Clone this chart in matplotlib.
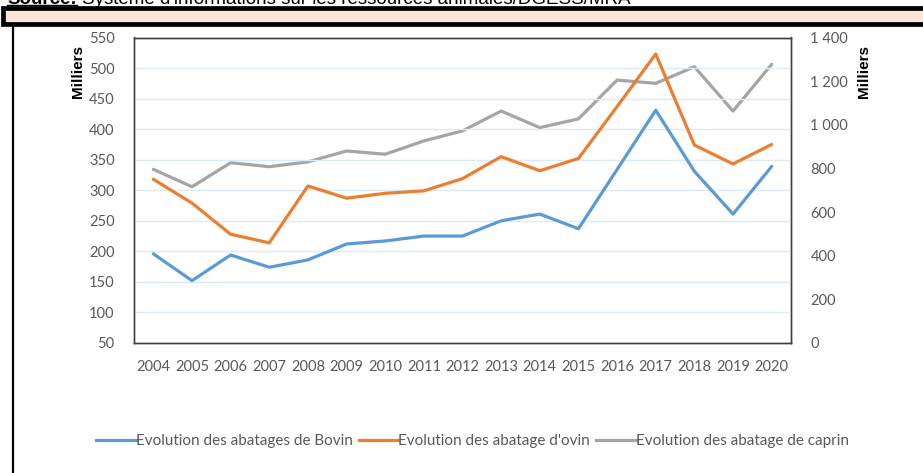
import matplotlib
matplotlib.use('Agg')
import matplotlib.pyplot as plt
from matplotlib.lines import Line2D
from matplotlib.patches import Rectangle
from matplotlib.ticker import FuncFormatter

annees = [str(a) for a in range(2004, 2021)]
# abattages en milliers de tetes
bovin = [196, 152, 194, 174, 186, 212, 217, 225, 225, 250, 261, 237, 334, 431, 331, 261, 339]
ovin = [318, 279, 228, 214, 307, 287, 295, 299, 319, 355, 332, 352, 437, 523, 374, 343, 375]
caprin = [796, 716, 826, 808, 830, 880, 865, 926, 972, 1063, 987, 1027, 1205, 1190, 1266, 1063, 1277]

noms = ["Evolution des abatages de Bovin", "Evolution des abatage d'ovin",
        "Evolution des abatage de caprin"]
couleurs = ['#5B9BD5', '#ED7D31', '#A5A5A5']
gris_txt = '#595959'
police = ['Lato', 'DejaVu Sans']

fig = plt.figure(figsize=(9.23, 4.73), dpi=100)

# bandeau du haut (source coupee + cadre)
y_src = 1 - 3.5 / 473
t_src = fig.text(0.008, y_src, "Source:", fontsize=13.5, fontweight='bold',
                 family='Liberation Sans', va='baseline', ha='left')
fig.canvas.draw()
bb = t_src.get_window_extent()
fig.text((bb.x1 + 5) / 923, y_src, "Système d'informations sur les ressources animales/DGESS/MRA",
         fontsize=13.5, family='Liberation Sans', va='baseline', ha='left')
fig.add_artist(Line2D([bb.x0 / 923, bb.x1 / 923], [y_src - 1.5 / 473] * 2,
                      transform=fig.transFigure, color='black', linewidth=1))
fig.add_artist(Rectangle((3 / 923, 1 - 24 / 473), 1.0, 16 / 473, transform=fig.transFigure,
                         facecolor='#FCE4D6', edgecolor='black', linewidth=3.4))
fig.add_artist(Line2D([13.3 / 923, 13.3 / 923], [0, 1 - 26 / 473], transform=fig.transFigure,
                      color='black', linewidth=1.6))

ax = fig.add_axes([134 / 923, 1 - 343 / 473, 657 / 923, 305.5 / 473])
ax2 = ax.twinx()

x = list(range(len(annees)))
ax.plot(x, bovin, color=couleurs[0], linewidth=2.3, solid_capstyle='round', label=noms[0])
ax.plot(x, ovin, color=couleurs[1], linewidth=2.3, solid_capstyle='round', label=noms[1])
ax2.plot(x, caprin, color=couleurs[2], linewidth=2.3, solid_capstyle='round', label=noms[2])

ax.set_xlim(-0.5, len(annees) - 0.5)
ax.set_ylim(50, 550)
ax.set_yticks(range(50, 551, 50))
ax2.set_ylim(0, 1400)
ax2.set_yticks(range(0, 1401, 200))
ax2.yaxis.set_major_formatter(FuncFormatter(lambda v, p: f"{int(v):,}".replace(',', ' ')))
ax.set_xticks(x)
ax.set_xticklabels(annees)

ax.grid(axis='y', color='#DDEBF7', linewidth=1)
ax.set_axisbelow(True)
ax.set_zorder(ax2.get_zorder() + 1)
ax.patch.set_visible(False)

for a in (ax, ax2):
    a.tick_params(length=0, colors=gris_txt, labelsize=10.5)
    for lab in a.get_xticklabels() + a.get_yticklabels():
        lab.set_family(police)
    for s in a.spines.values():
        s.set_color('#404040')
        s.set_linewidth(1.0)
ax.tick_params(axis='y', pad=14)
ax.tick_params(axis='x', pad=12)
ax2.tick_params(axis='y', pad=14)

fig.text(78 / 923, 1 - 72 / 473, "Milliers", rotation=90, fontsize=11, fontweight='bold',
         family='Liberation Sans', ha='center', va='center')
fig.text(864 / 923, 1 - 72 / 473, "Milliers", rotation=90, fontsize=11, fontweight='bold',
         family='Liberation Sans', ha='center', va='center')

poignees = [Line2D([], [], color=c, linewidth=2.3) for c in couleurs]
leg = fig.legend(poignees, noms, loc='center', bbox_to_anchor=(0.512, 1 - 441 / 473), ncol=3,
                 frameon=False, handlelength=2.6, handletextpad=0.0, columnspacing=0.4,
                 prop={'family': police, 'size': 11})
for t in leg.get_texts():
    t.set_color(gris_txt)

fig.savefig('out.png', dpi=100)
